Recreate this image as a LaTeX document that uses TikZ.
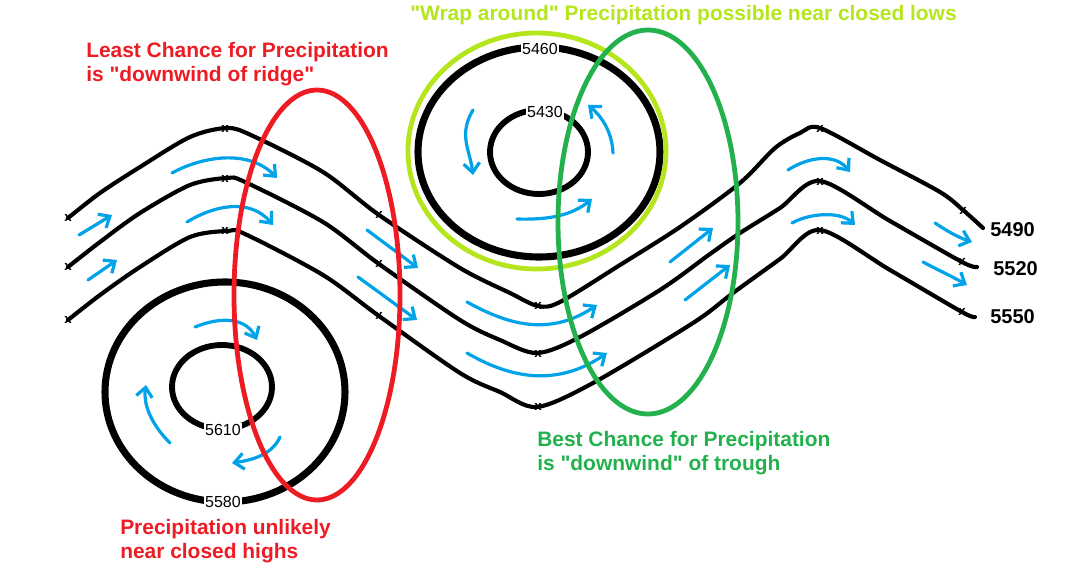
\documentclass[tikz,border=0pt]{standalone}
\usepackage{fontspec}
\setmainfont{Liberation Sans}
\usetikzlibrary{arrows.meta}
\definecolor{paintred}{HTML}{ED1C24}
\definecolor{paintlime}{HTML}{B5E61D}
\definecolor{paintgreen}{HTML}{22B14C}
\definecolor{paintblue}{HTML}{00A2E8}
\begin{document}
\begin{tikzpicture}[x=0.75pt,y=-0.75pt,line join=round,line cap=round,
  iso/.style={line width=3.1pt},
  zone/.style={line width=3.6pt},
  wind/.style={paintblue,line width=2.4pt,-{Straight Barb[length=7pt,width=12pt]}},
  note/.style={font=\fontsize{15.7}{18}\selectfont\bfseries,anchor=base west,align=left,inner sep=0pt},
  tag/.style={fill=white,inner sep=1pt,font=\fontsize{12}{12}\selectfont},
  hgt/.style={font=\fontsize{15}{15}\selectfont\bfseries,anchor=west,inner sep=0pt},
  xmk/.style={inner sep=0pt,font=\fontsize{10}{10}\selectfont\bfseries}]
\useasboundingbox (0,0) rectangle (1065,571);
\draw[iso] plot[smooth,tension=0.5] coordinates {(68,218) (100,193) (140,167) (190,137) (227,128) (253,136) (323,172) (379,215) (460,268) (510,293) (538,306) (560,302) (620,265) (680,227) (740,183) (775,148) (800,133) (820,128) (880,160) (940,192) (963,210) (983,228)};
\draw[iso] plot[smooth,tension=0.5] coordinates {(68,267) (100,242) (140,213) (190,185) (227,178) (245,182) (323,222) (379,264) (460,320) (500,340) (537,353) (580,337) (660,290) (710,254) (740,233) (780,208) (820,181) (890,221) (962,262) (977,267)};
\draw[iso] plot[smooth,tension=0.5] coordinates {(68,320) (100,295) (140,267) (190,237) (227,231) (245,234) (323,275) (379,316) (460,373) (500,392) (537,407) (593,383) (693,323) (733,293) (780,259) (820,230) (890,270) (962,312) (975,317)};
\foreach \x/\y [count=\i] in {68/218,68/267,68/320,225/129,225/179,225/231,379/215,379/264,379/316,538/306,538/354,538/407,820/129,820/182,820/231,963/211,962/262,962/312}
\node[xmk] (x\i) at (\x,\y) {x};
\node[hgt] (v5490) at (990,230) {5490};
\node[hgt] (v5520) at (993,269) {5520};
\node[hgt] (v5550) at (990,317) {5550};
\foreach \x/\y/\a/\b/\w in {225/392/90/82.5/5.3,222/387/37.5/31.5/4.4,539/152/90.75/78.75/5.3,539/152/36.75/31.5/4.4}
\draw[line width=\w pt] (\x,\y) ellipse[x radius=\a pt,y radius=\b pt];
\node[tag] (h5580) at (223,502) {5580};
\node[tag] (h5610) at (223,430) {5610};
\node[tag] (l5460) at (540,49) {5460};
\node[tag] (l5430) at (545,112) {5430};
\draw[wind] (172,173) .. controls (205,155) and (250,150) .. (277,178);
\draw[wind] (187,222) .. controls (215,205) and (250,198) .. (273,225);
\draw[wind] (79,235) -- (112,215);
\draw[wind] (88,280) -- (117,260);
\draw[wind] (195,327) .. controls (222,316) and (246,318) .. (257,340);
\draw[wind] (170,443) .. controls (152,425) and (143,405) .. (146,385);
\draw[wind] (280,437) .. controls (272,455) and (252,460) .. (232,463);
\draw[wind] (367,230) -- (418,268);
\draw[wind] (358,277) -- (417,320);
\draw[wind] (467,302) .. controls (500,320) and (545,340) .. (597,305);
\draw[wind] (467,353) .. controls (500,372) and (550,392) .. (607,353);
\draw[wind] (517,219) .. controls (550,220) and (572,215) .. (592,199);
\draw[wind] (670,262) -- (713,228);
\draw[wind] (685,300) -- (730,265);
\draw[wind] (788,170) .. controls (808,157) and (835,153) .. (850,172);
\draw[wind] (792,223) .. controls (810,213) and (840,211) .. (855,225);
\draw[wind] (935,223) .. controls (950,233) and (960,238) .. (972,242);
\draw[wind] (923,262) .. controls (940,271) and (955,278) .. (967,285);
\draw[wind] (473,110) .. controls (458,135) and (470,150) .. (473,175);
\draw[wind] (613,153) .. controls (612,130) and (600,115) .. (588,105);
\draw[zone,paintlime] (537,151) ellipse[x radius=96.75pt,y radius=88.5pt];
\draw[zone,paintred] (317,295) ellipse[x radius=62.25pt,y radius=153.75pt];
\draw[zone,paintgreen] (648,222) ellipse[x radius=67.5pt,y radius=144pt];
\node[note,paintred] (least) at (86,81) {Least Chance for Precipitation\\is \textquotedbl downwind of ridge\textquotedbl};
\node[note,paintlime] (wrap) at (410,21) {\textquotedbl Wrap around\textquotedbl{} Precipitation possible near closed lows};
\node[note,paintgreen] (best) at (537,470) {Best Chance for Precipitation\\is \textquotedbl downwind\textquotedbl{} of trough};
\node[note,paintred] (unlikely) at (120,558) {Precipitation unlikely\\near closed highs};
\end{tikzpicture}
\end{document}
